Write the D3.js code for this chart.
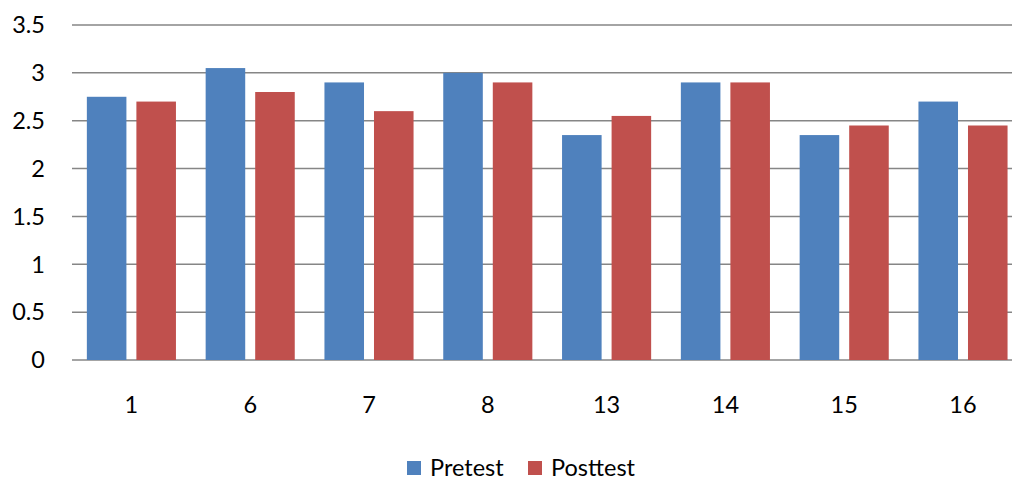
<!DOCTYPE html>
<html><head><meta charset="utf-8">
<script src="https://cdn.jsdelivr.net/npm/d3@7"></script>
<style>body{margin:0;background:#fff}svg{display:block}text{font-family:Lato,"Open Sans",sans-serif;fill:#000}</style>
</head><body><svg id="c" width="1012" height="481"></svg>
<script>
const categories = ["1","6","7","8","13","14","15","16"];
const pretest = [2.75,3.05,2.9,3.0,2.35,2.9,2.35,2.7];
const posttest = [2.7,2.8,2.6,2.9,2.55,2.9,2.45,2.45];
const seriesNames = ["Pretest","Posttest"];
const colors = ["#4F81BD","#C0504D"];
const yTicks = [0,0.5,1,1.5,2,2.5,3,3.5];

(function(){
const svg = d3.select("#c");
const mL = 72, mR = 1022.4, mT = 25, mB = 360;
const fs = 23.5;
const x = d3.scaleBand().domain(categories).range([mL,mR]).paddingInner(0).paddingOuter(0);
const y = d3.scaleLinear().domain([0,3.5]).range([mB,mT]);
const bw = x.bandwidth();
const barW = bw*0.333, gap = bw*0.084, off = (bw - 2*barW - gap)/2;

svg.append("g").selectAll("line").data(yTicks).join("line")
  .attr("x1",mL).attr("x2",mR).attr("y1",d=>y(d)).attr("y2",d=>y(d))
  .attr("stroke","#868686").attr("stroke-width",1.5);

svg.append("g").selectAll("text").data(yTicks).join("text")
  .attr("x",45).attr("y",d=>y(d)).attr("dy","0.35em").attr("text-anchor","end")
  .attr("font-size",fs).text(d=>d);

const data = [pretest, posttest];
data.forEach((vals,si)=>{
  svg.append("g").selectAll("rect").data(vals).join("rect")
    .attr("x",(d,i)=>x(categories[i])+off+si*(barW+gap))
    .attr("y",d=>y(d)).attr("width",barW).attr("height",d=>y(0)-y(d))
    .attr("fill",colors[si]);
});

svg.append("g").selectAll("text").data(categories).join("text")
  .attr("x",d=>x(d)+bw/2).attr("y",405).attr("dy","0.35em").attr("text-anchor","middle")
  .attr("font-size",fs).text(d=>d);

const leg = [{x:407,tx:430},{x:528,tx:551}];
seriesNames.forEach((n,i)=>{
  svg.append("rect").attr("x",leg[i].x).attr("y",461).attr("width",14).attr("height",14).attr("fill",colors[i]);
  svg.append("text").attr("x",leg[i].tx).attr("y",468).attr("dy","0.35em").attr("font-size",fs).text(n);
});
})();
</script></body></html>
